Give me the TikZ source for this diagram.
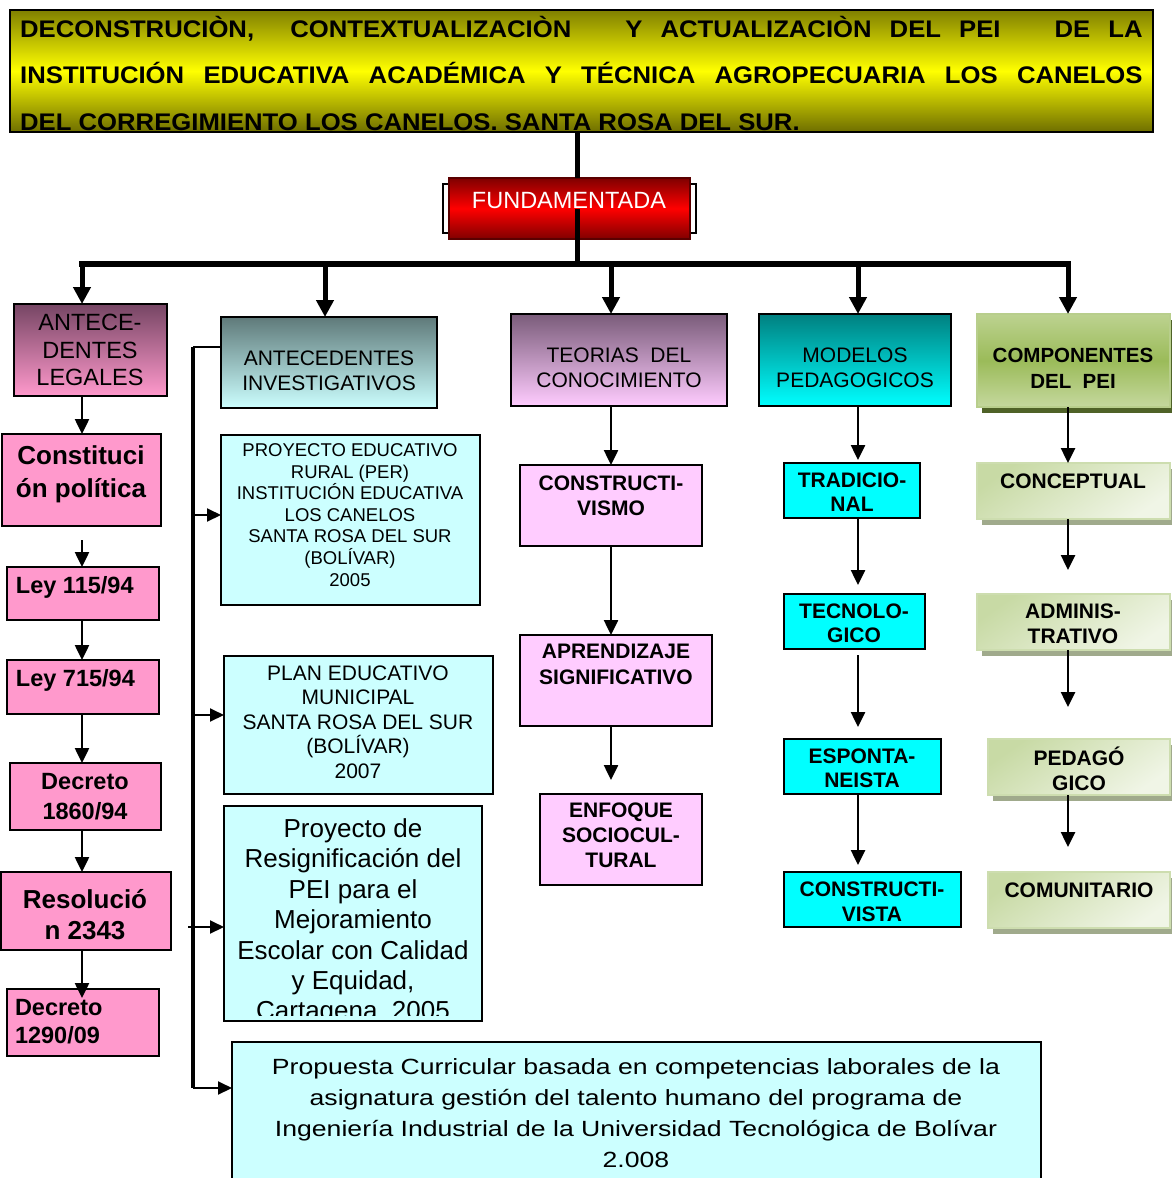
\documentclass[tikz,border=0pt]{standalone}
\usepackage{fontspec}
\usepackage{graphicx}
\setmainfont{Liberation Sans}
\usetikzlibrary{arrows.meta,shadows,calc}
\definecolor{olv}{RGB}{128,128,0}
\definecolor{olvb}{RGB}{110,110,0}
\definecolor{ylw}{RGB}{255,255,0}
\definecolor{dred}{RGB}{128,0,0}
\definecolor{brred}{RGB}{255,0,0}
\definecolor{legTop}{RGB}{118,70,100}
\definecolor{pnk}{RGB}{255,153,204}
\definecolor{invTop}{RGB}{95,122,122}
\definecolor{lcy}{RGB}{204,255,255}
\definecolor{teoTop}{RGB}{122,92,122}
\definecolor{lil}{RGB}{255,204,255}
\definecolor{modTop}{RGB}{0,128,128}
\definecolor{cyn}{RGB}{0,255,255}
\definecolor{gTop}{RGB}{197,216,158}
\definecolor{gMid}{RGB}{155,187,89}
\definecolor{gBor}{RGB}{184,206,140}
\definecolor{gSh}{RGB}{79,98,40}
\definecolor{lgA}{RGB}{200,218,165}
\definecolor{lgB}{RGB}{240,245,230}
\definecolor{lgSh}{RGB}{160,170,140}
\newcommand\fs[2]{\fontsize{#1}{#2}\selectfont}
\newcommand\bx[6][]{\node[box,#1,minimum width={(#5)-(#3)},minimum height={(#6)-(#4)}] (#2) at (#3,#4) {};}
\begin{document}
\begin{tikzpicture}[x=1pt,y=-1pt,
  box/.style={draw=black,line width=2pt,inner sep=0pt,outer sep=0pt,anchor=north west},
  txt/.style={inner sep=0pt,outer sep=0pt,align=center},
  titlebox/.style={top color=olv,bottom color=olvb,middle color=ylw},
  fundframe/.style={fill=white,draw=black,line width=2.5pt},
  fundbox/.style={top color=dred,bottom color=dred,middle color=brred,draw=dred!70!black,line width=1.5pt},
  legbox/.style={top color=legTop,bottom color=pnk},
  invbox/.style={top color=invTop,bottom color=lcy},
  teobox/.style={top color=teoTop,bottom color=lil},
  modbox/.style={top color=modTop,bottom color=cyn},
  compbox/.style={top color=gTop!80!gMid,bottom color=gTop,middle color=gMid,draw=gBor,line width=2.5pt,
     drop shadow={shadow xshift=5pt,shadow yshift=-6pt,fill=gSh,opacity=1}},
  subgreen/.style={top color=lgA,bottom color=lgB,shading angle=35,draw=gBor!70!white,line width=2pt,
     drop shadow={shadow xshift=5pt,shadow yshift=-6pt,fill=lgSh,opacity=1}},
  pinkbox/.style={fill=pnk},
  lilbox/.style={fill=lil},
  lcybox/.style={fill=lcy},
  cybox/.style={fill=cyn},
  arr/.style={line width=2.5pt,-{Triangle[length=15pt,width=14pt]}},
  barr/.style={line width=2pt,-{Triangle[length=14pt,width=13pt]}},
  bigarr/.style={line width=5pt,-{Triangle[length=17pt,width=17pt]}},
  trunk/.style={line width=5pt},
]
\useasboundingbox (0,0) rectangle (1172,1178);
\clip (0,0) rectangle (1172,1178);
\fill[white] (0,0) rectangle (1172,1178);

% ---------- title ----------
\bx[titlebox]{title}{10}{10}{1153}{132}
\node[anchor=base west,inner sep=0pt] (tl1) at (20,37) {\fs{24}{28}\bfseries\scalebox{1.07}[1]{\makebox[1049pt][s]{DECONSTRUCIÒN,\ \ CONTEXTUALIZACIÒN\ \ \ Y ACTUALIZACIÒN DEL PEI\ \ \ DE LA}}};
\node[anchor=base west,inner sep=0pt] (tl2) at (20,83.5) {\fs{24}{28}\bfseries\scalebox{1.07}[1]{\makebox[1049pt][s]{INSTITUCIÓN EDUCATIVA ACADÉMICA Y TÉCNICA AGROPECUARIA LOS CANELOS}}};
\node[anchor=base west,inner sep=0pt] (tl3) at (20,130) {\fs{24}{28}\bfseries\scalebox{1.07}[1]{DEL CORREGIMIENTO LOS CANELOS. SANTA ROSA DEL SUR.}};

% ---------- fundamentada ----------
\bx[fundframe]{fundf}{443}{184}{696}{233}
\bx[fundbox]{fund}{449}{178}{690}{239}
\node[txt,text=white,font=\fs{23.5}{27}] (tfund) at (569,201) {FUNDAMENTADA};

\coordinate (tk) at (577,262);
\draw[trunk] (tk |- title.south) -- (tk |- fund.north);
\draw[trunk] (tk |- fund.center) -- (tk);
\coordinate (barL) at (79,264);
\coordinate (barR) at (1071,264);
\draw[line width=6pt] (barL) -- (barR);
\coordinate (c1) at (82,264);
\coordinate (c2) at (325,264);
\coordinate (c3) at (611,264);
\coordinate (c4) at (858,264);
\coordinate (c5) at (1068,264);

% ---------- level 1 boxes ----------
\bx[legbox]{leg}{14}{304}{167}{396}
\bx[invbox]{inv}{221}{317}{437}{408}
\bx[teobox]{teo}{511}{314}{727}{406}
\bx[modbox]{mod}{759}{314}{951}{406}
\bx[compbox]{comp}{977}{314}{1170}{407}
\node[txt,font=\fs{23.5}{27.5}] (tleg) at (90,350) {ANTECE-\\DENTES\\LEGALES};
\node[txt,font=\fs{21}{25}] (tinv) at (329,370.5) {ANTECEDENTES\\INVESTIGATIVOS};
\node[txt,font=\fs{21}{25}] (tteo) at (619,367.5) {TEORIAS\ \ DEL\\CONOCIMIENTO};
\node[txt,font=\fs{21}{25}] (tmod) at (855,367.5) {MODELOS\\PEDAGOGICOS};
\node[txt,font=\fs{20.5}{26}\bfseries] (tcomp) at (1073,368) {COMPONENTES\\DEL\ \ PEI};

\draw[bigarr] (c1) -- (c1 |- leg.north);
\draw[bigarr] (c2) -- (c2 |- inv.north);
\draw[bigarr] (c3) -- (c3 |- teo.north);
\draw[bigarr] (c4) -- (c4 |- mod.north);
\draw[bigarr] (c5) -- (c5 |- comp.north);

% ---------- column 1 ----------
\bx[pinkbox]{con}{2}{434}{161}{526}
\bx[pinkbox]{l115}{7}{567}{159}{620}
\bx[pinkbox]{l715}{7}{660}{159}{714}
\bx[pinkbox]{d1860}{10}{763}{161}{830}
\bx[pinkbox]{res}{1}{872}{171}{950}
\bx[pinkbox]{d1290}{7}{989}{159}{1056}
\node[txt,font=\fs{26}{33}\bfseries] (tcon) at (81,474) {Constituci\\ón política};
\node[txt,anchor=west,font=\fs{23.5}{28}\bfseries] (tl115) at (16,587) {Ley 115/94};
\node[txt,anchor=west,font=\fs{23.5}{28}\bfseries] (tl715) at (16,680) {Ley 715/94};
\node[txt,font=\fs{23.5}{30}\bfseries] (td1860) at (85,797) {Decreto\\1860/94};
\node[txt,font=\fs{26}{31}\bfseries] (tres) at (85,914.5) {Resolució\\n 2343};
\node[txt,anchor=west,align=left,font=\fs{23.5}{28}\bfseries] (td1290) at (15,1022) {Decreto\\1290/09};

\draw[arr] (c1 |- leg.south) -- (c1 |- con.north);
\draw[arr,shorten <=14pt] (c1 |- con.south) -- (c1 |- l115.north);
\draw[arr] (c1 |- l115.south) -- (c1 |- l715.north);
\draw[arr] (c1 |- l715.south) -- (c1 |- d1860.north);
\draw[arr] (c1 |- d1860.south) -- (c1 |- res.north);
\draw[arr,shorten >=-9pt] (c1 |- res.south) -- (c1 |- d1290.north);

% ---------- column 2 ----------
\bx[lcybox]{per}{221}{435}{480}{605}
\bx[lcybox]{plan}{224}{656}{493}{794}
\bx[lcybox]{proy}{224}{806}{482}{1021}
\bx[lcybox]{prop}{232}{1042}{1041}{1200}
\node[txt,font=\fs{18.5}{21.6}] (tper) at (350,515) {PROYECTO EDUCATIVO\\RURAL (PER)\\INSTITUCIÓN EDUCATIVA\\LOS CANELOS\\SANTA ROSA DEL SUR\\(BOLÍVAR)\\2005};
\node[txt,font=\fs{21}{24.5}] (tplan) at (358,722) {PLAN EDUCATIVO\\MUNICIPAL\\SANTA ROSA DEL SUR\\(BOLÍVAR)\\2007};
\begin{scope}
\clip (proy.north west) rectangle ($(proy.south east)+(0,-6)$);
\node[txt,font=\fs{26}{30.4}] (tproy) at (353,922) {Proyecto de\\Resignificación del\\PEI para el\\Mejoramiento\\Escolar con Calidad\\y Equidad,\\Cartagena, 2005};
\end{scope}
\node[txt] (tprop) at (636,1114.5) {\fs{22}{31}\scalebox{1.21}[1]{\begin{tabular}{@{}c@{}}Propuesta Curricular basada en competencias laborales de la\\asignatura gestión del talento humano del programa de\\Ingeniería Industrial de la Universidad Tecnológica de Bolívar\\2.008\end{tabular}}};

\coordinate (bk) at (193,347);
\coordinate (b2) at (195,515);
\coordinate (b3) at (195,715);
\coordinate (b4) at (188,927);
\coordinate (bkb) at (193,1088);
\draw[line width=2pt] (inv.west |- bk) -- (bk);
\draw[line width=3.5pt] (bk) -- (bkb);
\draw[barr] (b2) -- (per.west |- b2);
\draw[barr] (b3) -- (plan.west |- b3);
\draw[barr] (b4) -- (proy.west |- b4);
\draw[barr] (bkb) -- (prop.west |- bkb);

% ---------- column 3 ----------
\bx[lilbox]{cvis}{520}{465}{702}{546}
\bx[lilbox]{apr}{520}{635}{712}{726}
\bx[lilbox]{enf}{540}{794}{702}{885}
\node[txt,font=\fs{21}{25}\bfseries] (tcvis) at (611,495.5) {CONSTRUCTI-\\VISMO};
\node[txt,font=\fs{21}{26}\bfseries] (tapr) at (616,664) {APRENDIZAJE\\SIGNIFICATIVO};
\node[txt,font=\fs{21}{25}\bfseries] (tenf) at (621,835) {ENFOQUE\\SOCIOCUL-\\TURAL};
\draw[arr] (c3 |- teo.south) -- (c3 |- cvis.north);
\draw[arr] (c3 |- cvis.south) -- (c3 |- apr.north);
\draw[arr,shorten >=14pt] (c3 |- apr.south) -- (c3 |- enf.north);

% ---------- column 4 ----------
\bx[cybox]{trad}{784}{463}{920}{518}
\bx[cybox]{tec}{784}{594}{925}{649}
\bx[cybox]{esp}{784}{739}{941}{794}
\bx[cybox]{cvista}{784}{872}{961}{927}
\node[txt,font=\fs{21}{24}\bfseries] (ttrad) at (852,492) {TRADICIO-\\NAL};
\node[txt,font=\fs{21}{24}\bfseries] (ttec) at (854,623) {TECNOLO-\\GICO};
\node[txt,font=\fs{21}{24}\bfseries] (tesp) at (862,768) {ESPONTA-\\NEISTA};
\node[txt,font=\fs{21}{25}\bfseries] (tcvista) at (872,901.5) {CONSTRUCTI-\\VISTA};
\draw[arr,shorten >=3pt] (c4 |- mod.south) -- (c4 |- trad.north);
\draw[arr,shorten >=9pt] (c4 |- trad.south) -- (c4 |- tec.north);
\draw[arr,shorten <=6pt,shorten >=12pt] (c4 |- tec.south) -- (c4 |- esp.north);
\draw[arr,shorten >=7pt] (c4 |- esp.south) -- (c4 |- cvista.north);

% ---------- column 5 ----------
\bx[subgreen]{conc}{977}{463}{1170}{519}
\bx[subgreen]{adm}{977}{594}{1170}{650}
\bx[subgreen]{ped}{988}{739}{1170}{795}
\bx[subgreen]{comu}{988}{872}{1170}{928}
\node[txt,font=\fs{21}{25}\bfseries] (tconc) at (1073,481) {CONCEPTUAL};
\node[txt,font=\fs{21}{25}\bfseries] (tadm) at (1073,623.5) {ADMINIS-\\TRATIVO};
\node[txt,font=\fs{21}{25}\bfseries] (tped) at (1079,768.5) {PEDAGÓ\\GICO};
\node[txt,font=\fs{21}{25}\bfseries] (tcomu) at (1079,890) {COMUNITARIO};
\draw[arr] (c5 |- comp.south) -- (c5 |- conc.north);
\draw[arr,shorten >=24pt] (c5 |- conc.south) -- (c5 |- adm.north);
\draw[arr,shorten >=32pt] (c5 |- adm.south) -- (c5 |- ped.north);
\draw[arr,shorten >=25pt] (c5 |- ped.south) -- (c5 |- comu.north);
\end{tikzpicture}
\end{document}
